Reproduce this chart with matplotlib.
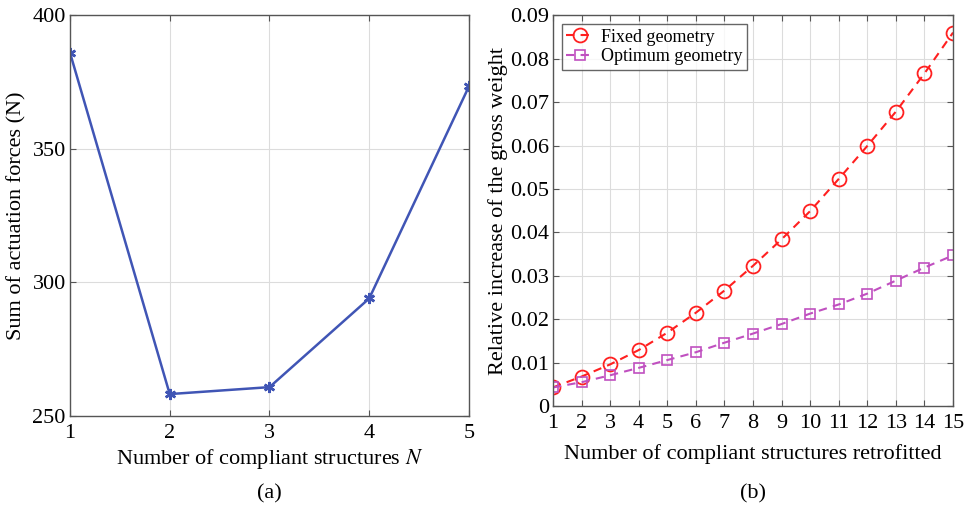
import matplotlib
matplotlib.use('Agg')
import matplotlib.pyplot as plt
import numpy as np

plt.rcParams['font.family'] = ['Liberation Serif', 'DejaVu Serif']
plt.rcParams['mathtext.fontset'] = 'stix'

# (a) sum of actuation forces vs number of compliant structures
n_structures = [1, 2, 3, 4, 5]
force_sum = [386.0, 258.2, 260.8, 294.0, 373.4]

# (b) relative increase of gross weight
n_retro = list(range(1, 16))
fixed_geom = [0.0043, 0.0068, 0.0096, 0.0129, 0.0169, 0.0215, 0.0266, 0.0323,
              0.0384, 0.0449, 0.0523, 0.0599, 0.0678, 0.0766, 0.0860]
optimum_geom = [0.0043, 0.0055, 0.0071, 0.0088, 0.0106, 0.0124, 0.0146, 0.0167,
                0.0189, 0.0213, 0.0234, 0.0259, 0.0289, 0.0319, 0.0347]

fig = plt.figure(figsize=(9.65, 5.07), dpi=100)
ax1 = fig.add_axes([0.0725, 0.1795, 0.4135, 0.7905])
ax2 = fig.add_axes([0.573, 0.199, 0.4146, 0.771])

fs = 16
gridcol = '#dcdcdc'

# left panel
ax1.plot(n_structures, force_sum, color='#4055b5', lw=1.8, marker=(6, 2, 0),
         markersize=8, markeredgewidth=1.8)
ax1.set_xlim(1, 5)
ax1.set_ylim(250, 400)
ax1.set_xticks(n_structures)
ax1.set_yticks([250, 300, 350, 400])
ax1.set_xlabel('Number of compliant structures $N$', fontsize=fs, labelpad=3)
ax1.set_ylabel('Sum of actuation forces (N)', fontsize=fs, labelpad=4)
ax1.text(0.5, -0.17, '(a)', transform=ax1.transAxes, ha='center', va='top', fontsize=fs)

# right panel
ax2.plot(n_retro, fixed_geom, color='#ff2020', ls='--', lw=1.5, dashes=(4, 3), marker='o',
         markersize=10, markerfacecolor='none', markeredgewidth=1.3, label='Fixed geometry')
ax2.plot(n_retro, optimum_geom, color='#c050c0', ls='--', lw=1.5, dashes=(4, 3), marker='s',
         markersize=7.5, markerfacecolor='none', markeredgewidth=1.2, label='Optimum geometry')
ax2.set_xlim(1, 15)
ax2.set_ylim(0, 0.09)
ax2.set_xticks(n_retro)
ax2.set_yticks(np.arange(0, 0.091, 0.01))
ax2.set_yticklabels(['0'] + ['%.2f' % v for v in np.arange(0.01, 0.091, 0.01)])
ax2.set_xlabel('Number of compliant structures retrofitted', fontsize=fs, labelpad=8)
ax2.set_ylabel('Relative increase of the gross weight', fontsize=fs, labelpad=1)
ax2.text(0.5, -0.2, '(b)', transform=ax2.transAxes, ha='center', va='top', fontsize=fs)
leg = ax2.legend(loc='upper left', fontsize=13, frameon=True, fancybox=False,
                 edgecolor='#404040', borderpad=0.25, labelspacing=0.15,
                 handlelength=1.5, handletextpad=0.4, borderaxespad=0.5)
leg.get_frame().set_linewidth(1.0)

for ax in (ax1, ax2):
    ax.grid(True, color=gridcol, lw=0.8)
    ax.set_axisbelow(True)
    ax.tick_params(direction='in', labelsize=fs, top=True, right=True,
                   length=4, color='#555555')
    ax.tick_params(axis='y', pad=3)
    ax.tick_params(axis='x', pad=6)
    for sp in ax.spines.values():
        sp.set_color('#555555')
        sp.set_linewidth(1.0)

fig.savefig('out.png', dpi=100)
